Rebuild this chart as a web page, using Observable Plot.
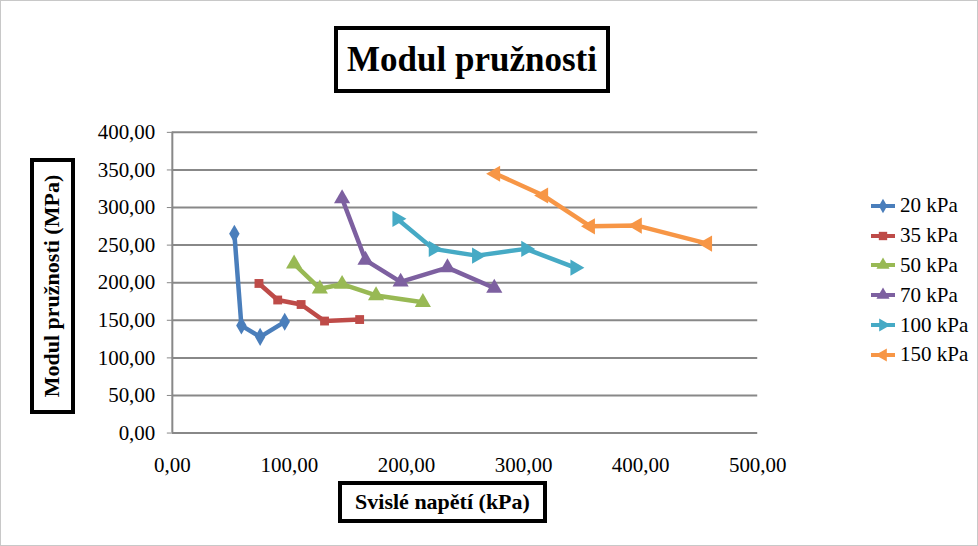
<!DOCTYPE html>
<html><head><meta charset="utf-8">
<script src="https://cdn.jsdelivr.net/npm/d3@7"></script>
<script src="https://cdn.jsdelivr.net/npm/@observablehq/plot@0.6"></script>
<style>
body{margin:0;background:#fff;}
#wrap{position:relative;width:978px;height:546px;box-sizing:border-box;border:1px solid #c8c8c8;font-family:'Liberation Serif';}
#chart{position:absolute;left:-1px;top:-1px;}
#chart svg, #chart svg text{font-family:'Liberation Serif' !important;}
.box{position:absolute;border:4px solid #000;background:#fff;font-weight:bold;color:#000;box-sizing:border-box;display:flex;align-items:center;justify-content:center;white-space:nowrap;font-family:'Liberation Serif';}
#legend{position:absolute;left:869px;top:190px;font-size:21px;font-family:'Liberation Serif';color:#000;}
#legend .row{display:flex;align-items:center;height:29.8px;}
#legend svg{margin-right:4px;}
</style></head>
<body>
<div id="wrap">
<div id="chart"></div>
<div class="box" style="left:333px;top:25px;width:276px;height:67px;font-size:35px;">Modul pružnosti</div>
<div class="box" style="left:29px;top:157px;width:45px;height:256px;"><span style="transform:rotate(-90deg);font-size:22px;display:inline-block;">Modul pružnosti (MPa)</span></div>
<div class="box" style="left:337px;top:480px;width:209px;height:42px;font-size:22px;">Svislé napětí (kPa)</div>
<div id="legend"></div>
</div>
<script>
const seriesNames = ["20 kPa","35 kPa","50 kPa","70 kPa","100 kPa","150 kPa"];
const seriesColors = ["#4a7ebb","#be4b48","#98b954","#7d60a0","#46aac5","#f79646"];
const seriesSymbols = ["diamond","square","triangle","triangle","triangle","triangle"];
const seriesRotate = [0,0,0,0,90,-90];
const x20 = [53,59,75,96];       const y20 = [265,143,128,148];
const x35 = [74,90,110,130,160]; const y35 = [199,177,171,149,151];
const x50 = [104,126,145,174,214]; const y50 = [225,192,198,183,174];
const x70 = [145,165,195,235,275]; const y70 = [312,230,201,220,193];
const x100 = [192,223,260,302,344]; const y100 = [285,245,236,245,220];
const x150 = [276,317,357,397,457]; const y150 = [345,316,275,276,252];
const yTicks = [0,50,100,150,200,250,300,350,400];
const xTicks = [0,100,200,300,400,500];

const xs = [x20,x35,x50,x70,x100,x150];
const ys = [y20,y35,y50,y70,y100,y150];
const data = [];
seriesNames.forEach((s,i)=>xs[i].forEach((x,j)=>data.push({s, x, y: ys[i][j], i})));
const fmt = d => d.toFixed(2).replace(".", ",");
const ff = "Liberation Serif";

const marks = [
  Plot.gridY(yTicks.filter(d=>d>0), {stroke:"#888", strokeOpacity:1, strokeWidth:2}),
  Plot.ruleY([0], {stroke:"#888", strokeWidth:2}),
  Plot.ruleX([0], {stroke:"#888", strokeWidth:2}),
  Plot.axisY({ticks: yTicks, tickFormat: fmt, tickSize:5, tickPadding:12, stroke:"#888", fontSize:21, fontFamily:ff, label:null, fill:"#000"}),
  Plot.axisX({ticks: xTicks, tickFormat: fmt, tickSize:0, tickPadding:24, fontSize:21, fontFamily:ff, label:null, fill:"#000"}),
  Plot.line(data, {x:"x", y:"y", z:"s", stroke:"s", strokeWidth:4.5})
];
seriesNames.forEach((s,i)=>{
  marks.push(Plot.dot(data.filter(d=>d.s===s), {x:"x", y:"y", fill:"s", symbol:()=>seriesSymbols[i], r: seriesSymbols[i]==="diamond"?5.5:(seriesSymbols[i]==="square"?5:6), rotate: seriesRotate[i], stroke:"none"}));
});

const chart = Plot.plot({
  width:978, height:546,
  marginLeft:172, marginRight:220, marginTop:132, marginBottom:113,
  x:{domain:[0,500], axis:null},
  y:{domain:[0,400], axis:null},
  color:{domain: seriesNames, range: seriesColors},
  symbol:{type:"identity"},
  style:{fontFamily:ff, fontSize:"21px", color:"#000", background:"transparent"},
  marks
});
document.getElementById("chart").append(chart);

// legend
const leg = document.getElementById("legend");
const symMap = {diamond: d3.symbolDiamond, square: d3.symbolSquare, triangle: d3.symbolTriangle};
seriesNames.forEach((s,i)=>{
  const row = document.createElement("div"); row.className="row";
  const sz = seriesSymbols[i]==="diamond"?60:(seriesSymbols[i]==="square"?70:75);
  const path = d3.symbol(symMap[seriesSymbols[i]], sz)();
  row.innerHTML = `<svg width="26" height="16"><line x1="1" x2="25" y1="8" y2="8" stroke="${seriesColors[i]}" stroke-width="4"/><path d="${path}" transform="translate(13,8) rotate(${seriesRotate[i]})" fill="${seriesColors[i]}"/></svg><span>${s}</span>`;
  leg.append(row);
});
</script>
</body></html>
